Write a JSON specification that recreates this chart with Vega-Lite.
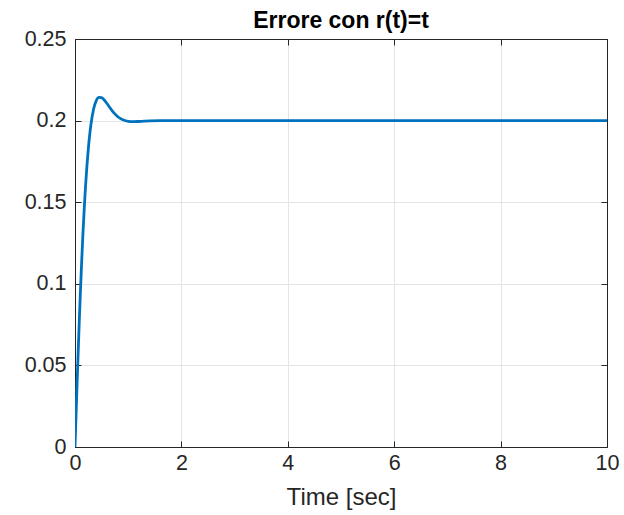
{
  "$schema": "https://vega.github.io/schema/vega-lite/v6.json",
  "autosize": "none",
  "width": 532,
  "height": 408,
  "padding": {"left": 75, "top": 39, "right": 17, "bottom": 68},
  "background": "white",
  "title": {
    "text": "Errore con r(t)=t",
    "font": "Liberation Sans",
    "fontSize": 23,
    "fontWeight": "bold",
    "color": "#000000",
    "anchor": "middle",
    "offset": -5
  },
  "config": {
    "view": {"stroke": null},
    "axis": {
      "labelFont": "Liberation Sans",
      "titleFont": "Liberation Sans",
      "labelFontSize": 21.5,
      "titleFontSize": 24,
      "labelColor": "#262626",
      "titleColor": "#262626",
      "titleFontWeight": "normal",
      "labelFlush": false,
      "domainColor": "#262626",
      "domainWidth": 1,
      "tickColor": "#262626",
      "gridColor": "#e4e4e4",
      "gridWidth": 1
    }
  },
  "data": {
    "values": [
      {"t": 0, "e": 0},
      {"t": 0.02, "e": 0.01994},
      {"t": 0.04, "e": 0.03953},
      {"t": 0.06, "e": 0.05848},
      {"t": 0.08, "e": 0.07658},
      {"t": 0.1, "e": 0.09365},
      {"t": 0.125, "e": 0.11336},
      {"t": 0.15, "e": 0.13114},
      {"t": 0.175, "e": 0.14692},
      {"t": 0.2, "e": 0.16071},
      {"t": 0.225, "e": 0.17256},
      {"t": 0.25, "e": 0.18259},
      {"t": 0.275, "e": 0.19091},
      {"t": 0.3, "e": 0.19766},
      {"t": 0.35, "e": 0.20712},
      {"t": 0.4, "e": 0.21224},
      {"t": 0.45, "e": 0.21419},
      {"t": 0.5, "e": 0.21403},
      {"t": 0.55, "e": 0.21259},
      {"t": 0.6, "e": 0.2105},
      {"t": 0.65, "e": 0.20821},
      {"t": 0.7, "e": 0.20602},
      {"t": 0.75, "e": 0.2041},
      {"t": 0.8, "e": 0.20253},
      {"t": 0.85, "e": 0.20133},
      {"t": 0.9, "e": 0.20047},
      {"t": 1.0, "e": 0.19955},
      {"t": 1.1, "e": 0.19934},
      {"t": 1.2, "e": 0.19946},
      {"t": 1.3, "e": 0.19967},
      {"t": 1.4, "e": 0.19984},
      {"t": 1.6, "e": 0.20001},
      {"t": 1.8, "e": 0.20003},
      {"t": 2.0, "e": 0.20001},
      {"t": 3, "e": 0.2},
      {"t": 4, "e": 0.2},
      {"t": 5, "e": 0.2},
      {"t": 6, "e": 0.2},
      {"t": 7, "e": 0.2},
      {"t": 8, "e": 0.2},
      {"t": 9, "e": 0.2},
      {"t": 10, "e": 0.2}
    ]
  },
  "layer": [
    {
      "mark": {"type": "line", "color": "#0072BD", "strokeWidth": 2.8, "interpolate": "monotone", "clip": true},
      "encoding": {
        "x": {
          "field": "t", "type": "quantitative",
          "scale": {"domain": [0, 10], "nice": false},
          "axis": {
            "orient": "bottom", "values": [0, 2, 4, 6, 8, 10],
            "title": "Time [sec]", "titlePadding": 12,
            "tickSize": -6, "labelPadding": 11, "grid": true
          }
        },
        "y": {
          "field": "e", "type": "quantitative",
          "scale": {"domain": [0, 0.25], "nice": false, "zero": false},
          "axis": {
            "orient": "left", "values": [0, 0.05, 0.1, 0.15, 0.2, 0.25],
            "format": "~g", "title": null,
            "tickSize": -6, "labelPadding": 15, "grid": true
          }
        }
      }
    },
    {
      "mark": {"type": "line", "opacity": 0},
      "encoding": {
        "x": {
          "field": "t", "type": "quantitative",
          "scale": {"domain": [0, 10], "nice": false},
          "axis": {
            "orient": "top", "values": [0, 2, 4, 6, 8, 10],
            "title": null, "labels": false, "tickSize": -6, "grid": false
          }
        },
        "y": {
          "field": "e", "type": "quantitative",
          "scale": {"domain": [0, 0.25], "nice": false, "zero": false},
          "axis": {
            "orient": "right", "values": [0, 0.05, 0.1, 0.15, 0.2, 0.25],
            "title": null, "labels": false, "tickSize": -6, "grid": false
          }
        }
      }
    }
  ],
  "resolve": {"axis": {"x": "independent", "y": "independent"}}
}
